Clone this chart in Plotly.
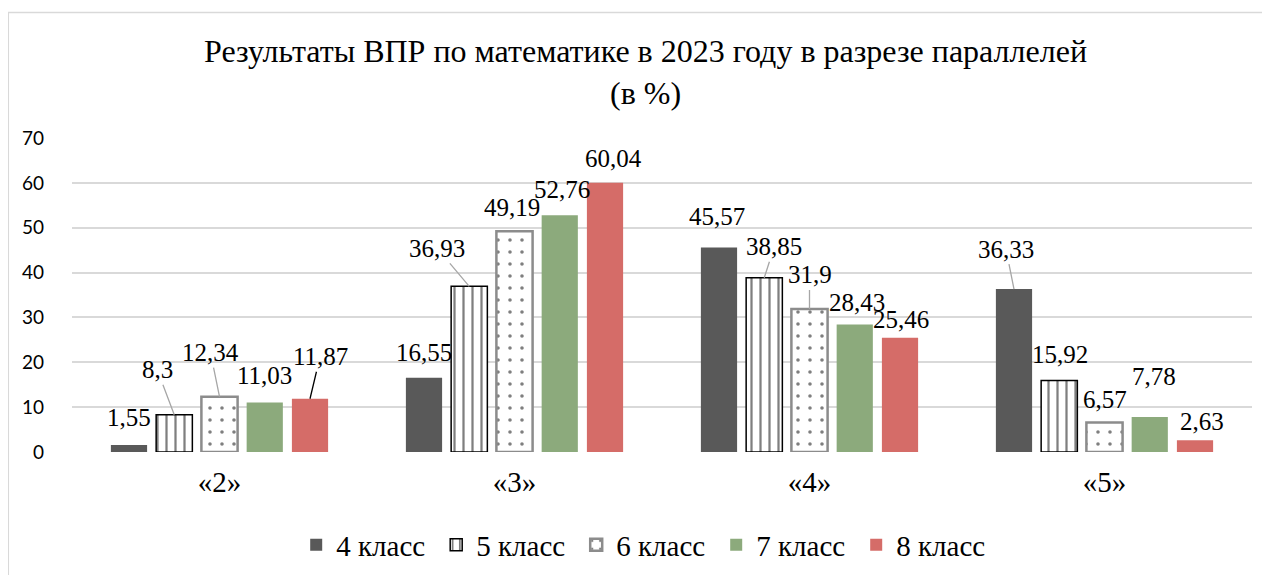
import plotly.graph_objects as go

# Данные ВПР по математике 2023
categories = ["«2»", "«3»", "«4»", "«5»"]
classes = ["4 класс", "5 класс", "6 класс", "7 класс", "8 класс"]
vals_4 = [1.55, 16.55, 45.57, 36.33]
vals_5 = [8.3, 36.93, 38.85, 15.92]
vals_6 = [12.34, 49.19, 31.9, 6.57]
vals_7 = [11.03, 52.76, 28.43, 7.78]
vals_8 = [11.87, 60.04, 25.46, 2.63]
labels_4 = ["1,55", "16,55", "45,57", "36,33"]
labels_5 = ["8,3", "36,93", "38,85", "15,92"]
labels_6 = ["12,34", "49,19", "31,9", "6,57"]
labels_7 = ["11,03", "52,76", "28,43", "7,78"]
labels_8 = ["11,87", "60,04", "25,46", "2,63"]
y_ticks = [0, 10, 20, 30, 40, 50, 60, 70]

series = [vals_4, vals_5, vals_6, vals_7, vals_8]
series_labels = [labels_4, labels_5, labels_6, labels_7, labels_8]

SERIF = "Liberation Serif"
bargap = 0.233

styles = [
    dict(color="#595959", line=dict(width=0)),
    dict(color="white", line=dict(color="black", width=1.5),
         pattern=dict(shape="|", fgcolor="black", bgcolor="white", size=9, solidity=0.25)),
    dict(color="white", line=dict(color="#8c8c8c", width=2.5),
         pattern=dict(shape=".", fgcolor="black", bgcolor="white", size=12, solidity=0.07)),
    dict(color="#8caa7c", line=dict(width=0)),
    dict(color="#d56c68", line=dict(width=0)),
]

# смещения подписей (ax, ay) и цвет выносок
offsets = [
    [(0, -28, None), (0, -25, None), (-2, -31, None), (-8, -40, "#a6a6a6")],
    [(-17, -45, "#a6a6a6"), (-32, -38, "#a6a6a6"), (10, -31, "#a6a6a6"), (1, -26, None)],
    [(-9, -44, "#a6a6a6"), (-3, -24, None), (0, -34, "#a6a6a6"), (0, -23, None)],
    [(0, -27, None), (2, -26, None), (2, -22, None), (4, -41, None)],
    [(10, -42, "black"), (8, -24, None), (1, -18, None), (7, -19, None)],
]

fig = go.Figure()
for name, vals, st in zip(classes, series, styles):
    fig.add_trace(go.Bar(x=categories, y=vals, name=name, marker=st))

slot = (1 - bargap) / len(classes)
annotations = []
for i, (vals, labs) in enumerate(zip(series, series_labels)):
    for j, (v, lab) in enumerate(zip(vals, labs)):
        ax, ay, col = offsets[i][j]
        annotations.append(dict(
            x=j + (i - 2) * slot, y=v, xref="x", yref="y",
            text=lab, showarrow=True, arrowhead=0, arrowwidth=1.3,
            arrowcolor=col if col else "rgba(0,0,0,0)",
            ax=ax, ay=ay, font=dict(family=SERIF, size=25, color="black"),
        ))

# страница добавляет отступ 8px, поэтому поля уменьшены
fig.update_layout(
    width=1270, height=575,
    margin=dict(l=64, r=26, t=130, b=131, autoexpand=False),
    paper_bgcolor="white", plot_bgcolor="white",
    barmode="group", bargap=bargap, bargroupgap=0.2,
    title=dict(text="Результаты ВПР по математике в 2023 году в разрезе параллелей<br>(в %)",
               x=0.502, xanchor="center", y=0.906, yanchor="top",
               font=dict(family=SERIF, size=32, color="black")),
    showlegend=True,
    legend=dict(orientation="h", x=0.19, xanchor="left",
                y=-0.296, yanchor="middle",
                font=dict(family=SERIF, size=29, color="black"),
                entrywidth=95, entrywidthmode="pixels", traceorder="normal"),
    annotations=annotations,
    shapes=[dict(type="rect", xref="paper", yref="paper",
                 x0=-0.054, x1=1.2, y0=-0.6, y1=1.4,
                 line=dict(color="#d9d9d9", width=1.5), layer="below")],
)
fig.update_xaxes(showline=False, ticks="", ticklabelstandoff=10,
                 tickfont=dict(family=SERIF, size=29, color="black"))
fig.update_yaxes(range=[0, 70], tickvals=y_ticks, showgrid=True, gridcolor="#d9d9d9",
                 gridwidth=1.5, zeroline=False, showline=False, ticks="",
                 ticklabelstandoff=27, tickfont=dict(family="Lato", size=19, color="black"))

fig.write_html("out.html")
